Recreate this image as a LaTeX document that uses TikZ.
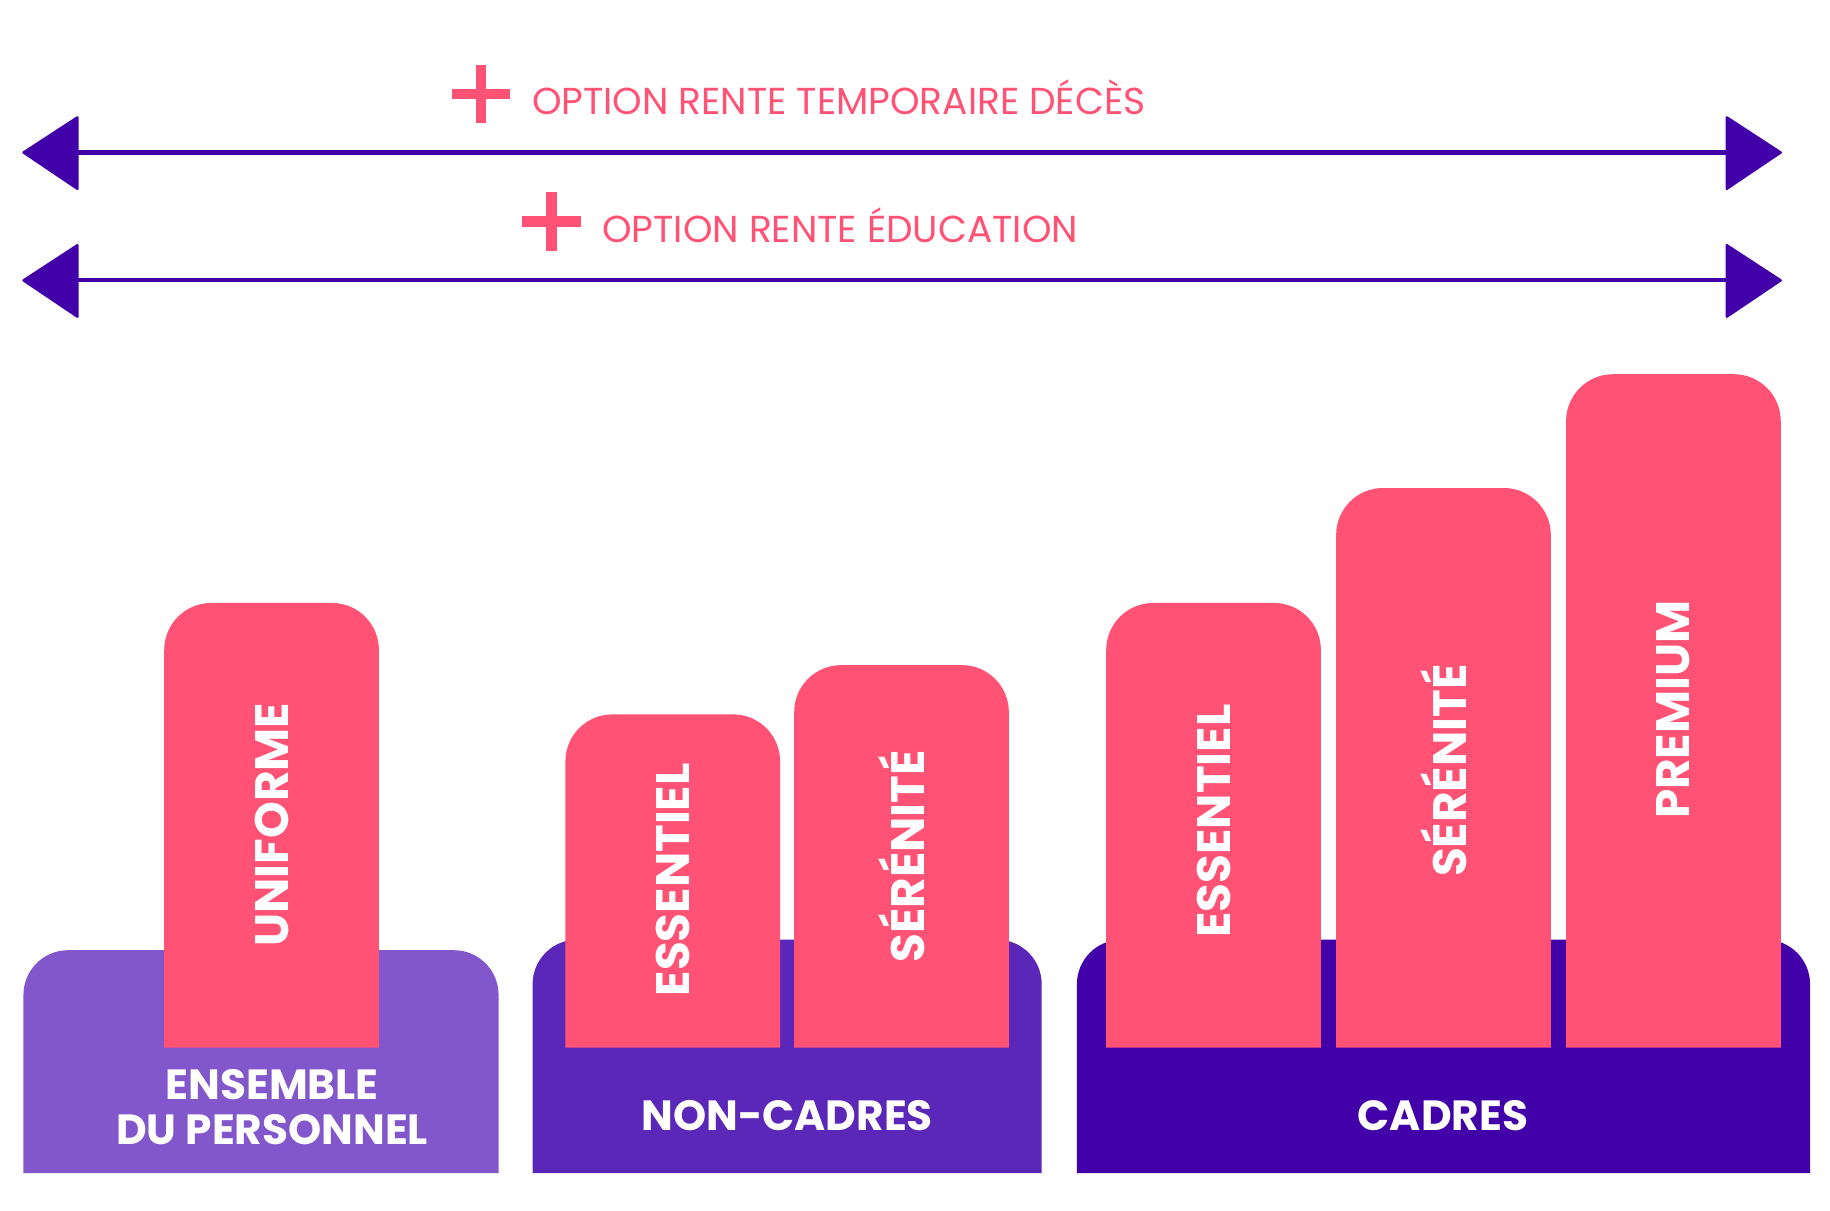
\documentclass[tikz,border=0pt]{standalone}
\usepackage{fontspec}
\setmainfont{Poppins}
\usetikzlibrary{positioning}
\definecolor{pinkbar}{HTML}{FF5274}
\definecolor{lightpurple}{HTML}{8357CC}
\definecolor{midpurple}{HTML}{5B27B8}
\definecolor{darkpurple}{HTML}{4100A8}
\tikzset{
         mybar/.style={rounded corners=40pt},
         mybase/.style={rounded corners=38pt},
         mybarlabel/.style={rotate=90, text=white, font=\fontsize{40}{40}\selectfont\bfseries},
         mybaselabel/.style={text=white, align=center, font=\fontsize{36}{36}\selectfont\bfseries},
         myoption/.style={text=pinkbar, anchor=west, font=\fontsize{32}{32}\selectfont},
         myplus/.style={draw=pinkbar, line width=9pt},
         myarrow/.style={draw=darkpurple, line width=3.5pt},
         myhead/.style={fill=darkpurple, draw=darkpurple, line width=2pt, line join=round}
      }
\begin{document}
\begin{tikzpicture}[x=1pt,y=-1pt]
  \useasboundingbox (0,0) rectangle (1560,1032);
  % bases
  \fill[lightpurple] (20,1000) [mybase] -- (20,810) -- (425,810) [sharp corners] -- (425,1000) -- cycle;
  \fill[midpurple] (454,1000) [mybase] -- (454,801) -- (888,801) [sharp corners] -- (888,1000) -- cycle;
  \fill[darkpurple] (918,1000) [mybase] -- (918,801) -- (1543,801) [sharp corners] -- (1543,1000) -- cycle;
  % bars
  \foreach \x/\top/\name/\ty in {140/514/UNIFORME/703, 482/609/ESSENTIEL/750, 677/567/SÉRÉNITÉ/730,
                                 943/514/ESSENTIEL/700, 1139/416/SÉRÉNITÉ/657, 1335/319/PREMIUM/605}{
    \fill[pinkbar] (\x,893) [mybar] -- (\x,\top) -- (\x+183,\top) [sharp corners] -- (\x+183,893) -- cycle;
    \node[mybarlabel] (bar\x) at (\x+91.5,\ty) {\name};
  }
  \node[mybaselabel] (ensemble) at (232,944) {ENSEMBLE\\[2pt]DU PERSONNEL};
  \node[mybaselabel] (noncadres) at (671,951) {NON-CADRES};
  \node[mybaselabel] (cadres) at (1230,951) {CADRES};
  % options
  \foreach \y/\px/\label in {130/410/OPTION RENTE TEMPORAIRE DÉCÈS, 239/470/OPTION RENTE ÉDUCATION}{
    \coordinate (left\y) at (66,\y);
    \coordinate (right\y) at (1472,\y);
    \draw[myarrow] (left\y) -- (right\y);
    \filldraw[myhead] (20,\y) -- (66,\y-30) -- (66,\y+31) -- cycle;
    \filldraw[myhead] (1518,\y) -- (1472,\y-30) -- (1472,\y+31) -- cycle;
    \draw[myplus] (\px-25,\y-50) -- (\px+25,\y-50) (\px,\y-75) -- (\px,\y-25);
    \node[myoption] (opt\y) at (\px+40,\y-47) {\label};
  }
\end{tikzpicture}
\end{document}
